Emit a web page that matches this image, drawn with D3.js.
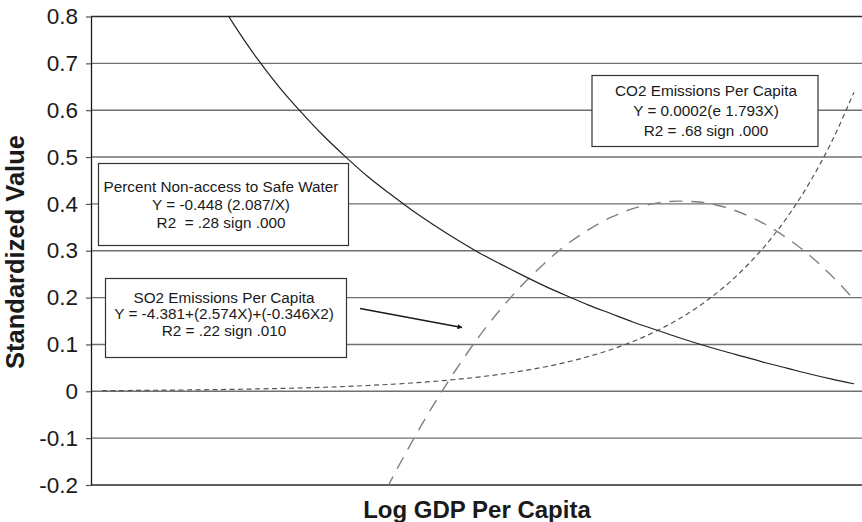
<!DOCTYPE html>
<html>
<head>
<meta charset="utf-8">
<script src="https://cdn.jsdelivr.net/npm/d3@7"></script>
<style>
  html, body { margin: 0; padding: 0; background: #fff; }
  svg { display: block; font-family: "Liberation Sans", Arial, sans-serif; }
</style>
</head>
<body>
<svg id="chart" width="862" height="522"></svg>
<script>
// Log GDP per capita sample points for each fitted curve
const waterX = [1.6, 1.7, 1.8, 1.9, 2.0, 2.1, 2.2, 2.3, 2.4, 2.5, 2.6, 2.7, 2.8, 2.9, 3.0,
                3.1, 3.2, 3.3, 3.4, 3.5, 3.6, 3.7, 3.8, 3.9, 4.0, 4.1, 4.2, 4.3, 4.4, 4.5];
const waterY = [0.856, 0.780, 0.711, 0.650, 0.596, 0.546, 0.501, 0.459, 0.422, 0.387, 0.355,
                0.325, 0.297, 0.272, 0.248, 0.225, 0.204, 0.184, 0.166, 0.148, 0.132, 0.116,
                0.101, 0.087, 0.074, 0.061, 0.049, 0.037, 0.026, 0.016];

const so2X = [2.3, 2.4, 2.5, 2.6, 2.7, 2.8, 2.9, 3.0, 3.1, 3.2, 3.3, 3.4, 3.5, 3.6, 3.7,
              3.8, 3.9, 4.0, 4.1, 4.2, 4.3, 4.4, 4.5];
const so2Y = [-0.291, -0.196, -0.109, -0.028, 0.046, 0.114, 0.174, 0.227, 0.273, 0.313,
              0.345, 0.371, 0.390, 0.401, 0.406, 0.404, 0.395, 0.379, 0.356, 0.326,
              0.290, 0.246, 0.196];

const co2X = [1.1, 1.2, 1.3, 1.4, 1.5, 1.6, 1.7, 1.8, 1.9, 2.0, 2.1, 2.2, 2.3, 2.4, 2.5,
              2.6, 2.7, 2.8, 2.9, 3.0, 3.1, 3.2, 3.3, 3.4, 3.5, 3.6, 3.7, 3.8, 3.9, 4.0,
              4.1, 4.2, 4.3, 4.4, 4.5];
const co2Y = [0.0014, 0.0017, 0.0021, 0.0025, 0.0029, 0.0035, 0.0042, 0.0050, 0.0060, 0.0072,
              0.0086, 0.0103, 0.0124, 0.0148, 0.0177, 0.0212, 0.0253, 0.0303, 0.0363, 0.0434,
              0.0519, 0.0621, 0.0743, 0.0888, 0.1063, 0.1272, 0.1521, 0.1820, 0.2177, 0.2605,
              0.3117, 0.3729, 0.4461, 0.5337, 0.6385];

// Y axis ticks and their printed labels
const yTicks = [-0.2, -0.1, 0, 0.1, 0.2, 0.3, 0.4, 0.5, 0.6, 0.7, 0.8];
const yTickLabels = ["-0.2", "-0.1", "0", "0.1", "0.2", "0.3", "0.4", "0.5", "0.6", "0.7", "0.8"];

// Annotation text
const waterNote = ["Percent Non-access to Safe Water", "Y = -0.448 (2.087/X)", "R2  = .28 sign .000"];
const so2Note = ["SO2 Emissions Per Capita", "Y = -4.381+(2.574X)+(-0.346X2)", "R2 = .22 sign .010"];
const co2Note = ["CO2 Emissions Per Capita", "Y = 0.0002(e 1.793X)", "R2 = .68 sign .000"];

const xTitle = "Log GDP Per Capita";
const yTitle = "Standardized Value";

const svg = d3.select("#chart");
const plotLeft = 91, plotRight = 862, plotTop = 16.5, plotBottom = 485;

const x = d3.scaleLinear().domain([1.05, 4.5]).range([plotLeft, 854]);
const y = d3.scaleLinear().domain([-0.2, 0.8]).range([plotBottom, plotTop]);

// horizontal gridlines
svg.append("g").selectAll("line")
  .data(yTicks)
  .join("line")
  .attr("x1", plotLeft).attr("x2", plotRight)
  .attr("y1", d => y(d)).attr("y2", d => y(d))
  .attr("stroke", d => (d === 0.8 || d === -0.2) ? "#2a2a2a" : "#707070")
  .attr("stroke-width", d => (d === 0.8 || d === -0.2) ? 1.3 : 1.4);

// left axis
const yAxis = d3.axisLeft(y)
  .tickValues(yTicks)
  .tickFormat((d, i) => yTickLabels[i])
  .tickSize(5)
  .tickSizeOuter(0)
  .tickPadding(8);
const ag = svg.append("g").attr("transform", `translate(${plotLeft},0)`).call(yAxis);
ag.select(".domain").attr("stroke", "#1a1a1a").attr("stroke-width", 1.3);
ag.selectAll(".tick line").attr("stroke", "#555").attr("stroke-width", 1.2);
ag.selectAll(".tick text")
  .attr("fill", "#1a1a1a")
  .style("font-size", "22.5px")
  .style("font-family", "'Liberation Sans', Arial, sans-serif");

// axis titles
svg.append("text")
  .attr("transform", "translate(24,252) rotate(-90)")
  .attr("text-anchor", "middle")
  .style("font-size", "25.5px").style("font-weight", "bold")
  .attr("fill", "#1a1a1a")
  .text(yTitle);
svg.append("text")
  .attr("x", 477).attr("y", 518)
  .attr("text-anchor", "middle")
  .style("font-size", "24px").style("font-weight", "bold")
  .attr("fill", "#1a1a1a")
  .text(xTitle);

// clip region for the curves
const defs = svg.append("defs");
defs.append("clipPath").attr("id", "plotClip")
  .append("rect").attr("x", plotLeft).attr("y", plotTop)
  .attr("width", plotRight - plotLeft).attr("height", plotBottom - plotTop);

const line = d3.line().x(d => x(d[0])).y(d => y(d[1])).curve(d3.curveMonotoneX);
const curves = svg.append("g").attr("clip-path", "url(#plotClip)");

curves.append("path")
  .attr("d", line(d3.zip(co2X, co2Y)))
  .attr("fill", "none").attr("stroke", "#555").attr("stroke-width", 1.2)
  .attr("stroke-dasharray", "5,3.5");

curves.append("path")
  .attr("d", line(d3.zip(so2X, so2Y)))
  .attr("fill", "none").attr("stroke", "#808080").attr("stroke-width", 1.4)
  .attr("stroke-dasharray", "13,9");

curves.append("path")
  .attr("d", line(d3.zip(waterX, waterY)))
  .attr("fill", "none").attr("stroke", "#222").attr("stroke-width", 1.2);

// annotation boxes
function note(lines, bx, by, bw, bh, cx, firstBaseline, spacing) {
  const g = svg.append("g");
  g.append("rect")
    .attr("x", bx).attr("y", by).attr("width", bw).attr("height", bh)
    .attr("fill", "#fff").attr("stroke", "#333").attr("stroke-width", 1.2);
  g.selectAll("text").data(lines).join("text")
    .attr("x", cx)
    .attr("y", (d, i) => firstBaseline + i * spacing)
    .attr("text-anchor", "middle")
    .style("font-size", "15.3px")
    .style("white-space", "pre")
    .attr("fill", "#1a1a1a")
    .text(d => d);
}
note(waterNote, 98.5, 163.5, 250, 82, 221, 192, 17.8);
note(so2Note, 105.5, 278.5, 241, 79, 224, 302.5, 16.5);
note(co2Note, 592, 75.5, 226, 71, 706, 95.5, 20);

// arrow pointing at the SO2 curve
defs.append("marker")
  .attr("id", "arrowHead")
  .attr("viewBox", "0 0 10 10").attr("refX", 9).attr("refY", 5)
  .attr("markerWidth", 6).attr("markerHeight", 5)
  .attr("markerUnits", "userSpaceOnUse")
  .attr("orient", "auto")
  .append("path").attr("d", "M0,0 L10,5 L0,10 Z").attr("fill", "#1a1a1a");
svg.append("line")
  .attr("x1", 360).attr("y1", 308.5).attr("x2", 462).attr("y2", 327.5)
  .attr("stroke", "#1a1a1a").attr("stroke-width", 1.3)
  .attr("marker-end", "url(#arrowHead)");
</script>
</body>
</html>
